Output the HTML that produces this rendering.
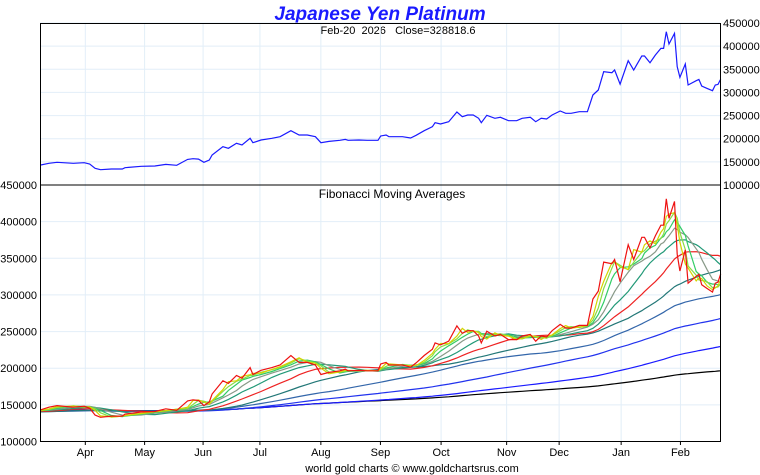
<!DOCTYPE html>
<html><head><meta charset="utf-8"><style>
body{margin:0;background:#fff;}
svg{display:block;font-family:"Liberation Sans",sans-serif;}
</style></head><body>
<svg id="chart" width="760" height="475">
<text x="380" y="20" text-anchor="middle" font-size="19" font-weight="bold" font-style="italic" fill="#1a1aff">Japanese Yen Platinum</text>
<text x="398" y="34" text-anchor="middle" font-size="11" fill="#000" style="white-space:pre">Feb-20  2026   Close=328818.6</text>
<g id="grid"></g>
<g id="series"></g>
<rect x="40.5" y="23.5" width="680" height="161.5" fill="none" stroke="#000"/>
<rect x="40.5" y="185" width="680" height="256.5" fill="none" stroke="#000"/>
<text x="392" y="198" text-anchor="middle" font-size="12" fill="#000">Fibonacci Moving Averages</text>
<g id="axes" font-size="11"></g>
<text x="412" y="472" text-anchor="middle" font-size="11" fill="#000">world gold charts © www.goldchartsrus.com</text>
</svg>
<script>
const days=[0,3,6,12,16,18,20,22,26,30,31,37,42,46,50,54,56,58,60,62,63,67,69,72,74,77,78,81,85,88,92,95,98,101,103,106,110,112,113,117,120,124,125,127,128,133,136,138,141,144,145,147,150,153,155,157,159,161,162,164,167,169,172,175,177,180,182,184,186,188,191,193,195,198,201,203,205,207,210,211,213,216,218,221,222,224,226,228,229,230,231,233,234,235,237,238,241,242,243,245,247,248,249,250];
const closes=[143.2,146.8,149,146.8,148.2,145.4,136,133,134.6,134.6,137.4,140.3,141,144.6,142.5,155.4,156.9,156,149,154,164.8,182.8,179.3,190,186.4,200.8,191.4,197.2,200.8,204.4,217.4,208,208,204.4,191.4,194.3,196.5,198.6,196.5,197.2,196.5,196.5,205.8,208,204.4,204.4,201.5,207.3,217.4,226,234.6,231.8,236.8,257.7,247.6,251.2,251.2,244,234.6,250.5,244,246.2,239,239,244,246.2,236.8,244,242.6,251.2,259.8,254.8,254.8,258.4,258.4,294.4,305.2,344.8,342.6,348.4,318,368.6,348.4,378.6,378.6,364.2,380.8,395.2,395.2,431.2,404.6,427.6,355.6,332.6,361.4,316,325.4,328.2,313.8,308.8,303.8,316,317.4,328.8];
const priorMonthlyAvg=[146,144,142,140,139,142];
const maPeriods=[3,5,8,13,21,34,55,89,144,233,377];
const maColors=["#d4d400","#88dd44","#33cc66","#889988","#229977","#ee2222","#227777","#3366aa","#2233ee","#1a1aff","#000000"];
const monthLabels=["Apr","May","Jun","Jul","Aug","Sep","Oct","Nov","Dec","Jan","Feb"];
const monthDays=[16.4,38.2,59.7,80.6,103,124.9,147.2,171.3,190.6,213.4,235.2];
const priceTicks=[100,150,200,250,300,350,400,450];

const NS="http://www.w3.org/2000/svg";
const X=d=>40.7+d*2.72;
const YT=v=>185-(v-100)/350*162;
const YB=v=>441.5-(v-100)/350*256.5;
function mk(tag,attrs,parent){const e=document.createElementNS(NS,tag);for(const k in attrs)e.setAttribute(k,attrs[k]);parent.appendChild(e);return e;}
const gridG=document.getElementById('grid'),seriesG=document.getElementById('series'),axesG=document.getElementById('axes');
monthDays.forEach((d,i)=>{
  const l1=mk('line',{x1:X(d),x2:X(d),y1:23,y2:185,stroke:"#e2eef8"},gridG);
  
  
  const l2=mk('line',{x1:X(d),x2:X(d),y1:185,y2:441,stroke:"#e2eef8"},gridG);
  
  
  const t=mk('text',{x:X(d),y:456,'text-anchor':'middle',fill:'#000'},axesG);
  t.textContent=monthLabels[i];
  
  
  const tk=mk('line',{x1:X(d),x2:X(d),y1:441,y2:445,stroke:'#000'},axesG);
  
  
});
priceTicks.forEach(v=>{
  const g1=mk('line',{x1:40,x2:720,y1:YT(v),y2:YT(v),stroke:"#e2eef8"},gridG);
  
  
  const g2=mk('line',{x1:40,x2:720,y1:YB(v),y2:YB(v),stroke:"#e2eef8"},gridG);
  
  
  const t1=mk('text',{x:723,y:YT(v)+4,fill:'#000'},axesG);
  t1.textContent=(v*1000).toString();
  
  
  const t2=mk('text',{x:37,y:YB(v)+4,'text-anchor':'end',fill:'#000'},axesG);
  t2.textContent=(v*1000).toString();
  
  
});
function path(vals,Y){return vals.map((v,i)=>(i?'L':'M')+X(days[i]).toFixed(1)+' '+Y(v).toFixed(1)).join(' ');}
const daily=[];
priorMonthlyAvg.forEach(v=>{for(let j=0;j<21;j++)daily.push(v);});
const offset=daily.length;
for(let i=0;i<closes.length;i++){
  const next=i<closes.length-1?days[i+1]:days[i]+1;
  for(let d=days[i];d<next;d++)daily.push(closes[i]);
}
function sma(p,idx){let s=0,n=0;for(let j=Math.max(0,idx-p+1);j<=idx;j++){s+=daily[j];n++;}return s/n;}
const topLine=mk('path',{d:path(closes,YT),fill:'none',stroke:'#1a1aff','stroke-width':1.2},seriesG);


maPeriods.slice().reverse().forEach((p,ri)=>{
  const k=maPeriods.length-1-ri;
  const out=days.map(d=>sma(p,offset+d));
  const ln=mk('path',{d:path(out,YB),fill:'none',stroke:maColors[k],'stroke-width':1.2},seriesG);
  
  
});
const pb=mk('path',{d:path(closes,YB),fill:'none',stroke:'#ee1111','stroke-width':1.2},seriesG);


</script>
</body></html>
